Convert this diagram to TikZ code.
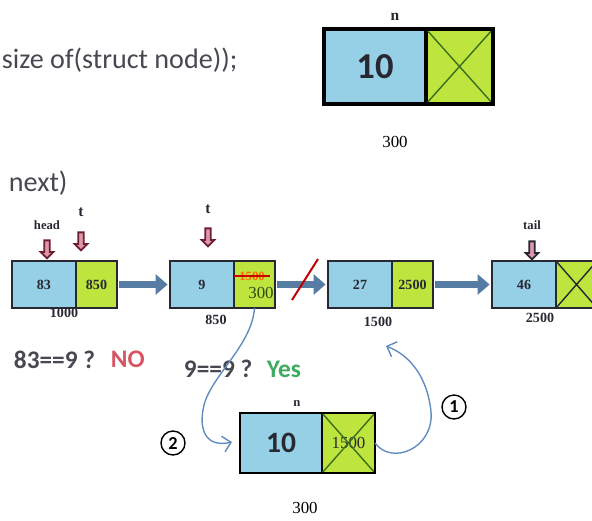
\documentclass[tikz,border=0pt]{standalone}
\usepackage{fontspec}
\setmainfont{Liberation Serif}
\setsansfont{Carlito}
\usetikzlibrary{arrows.meta,shapes.arrows}
\definecolor{cellblue}{RGB}{150,208,230}
\definecolor{cellgreen}{RGB}{190,228,62}
\definecolor{linkblue}{RGB}{86,124,164}
\definecolor{handblue}{RGB}{98,140,192}
\definecolor{noRed}{RGB}{214,86,100}
\definecolor{yesGreen}{RGB}{62,172,96}
\definecolor{ptrdraw}{RGB}{110,30,50}
\definecolor{ptrfill}{RGB}{222,150,170}
\definecolor{ink}{RGB}{40,40,50}
\definecolor{crossgreen}{RGB}{60,110,30}
\tikzset{
  >={Straight Barb[length=2mm]},
  datapart/.style={draw=ink,fill=cellblue,line width=0.5mm,inner sep=0pt,outer sep=0pt,
    minimum width=16mm,minimum height=11.75mm,font=\bfseries\fontsize{10}{11}\selectfont,text=ink},
  linkpart/.style={datapart,fill=cellgreen,minimum width=10.25mm,anchor=west},
  bigpart/.style={draw=black,fill=cellblue,inner sep=0pt,outer sep=0pt,
    font=\sffamily\bfseries\fontsize{#1}{#1}\selectfont,text=ink},
  bigpart/.default=22,
  addr/.style={font=\bfseries\fontsize{10}{11}\selectfont,text=ink},
  tag/.style={font=\bfseries\fontsize{9}{10}\selectfont,text=ink},
  ptr/.style={single arrow,shape border rotate=270,draw=#1,fill=ptrfill,line width=0.45mm,
    inner sep=0.45mm,minimum height=4.5mm,single arrow head extend=0.9mm},
  ptr/.default=ptrdraw,
  flow/.style={-{Triangle[length=3mm,width=5mm]},line width=1.7mm,draw=linkblue,
    shorten <=0.6mm,shorten >=0.6mm},
  hand/.style={->,line width=0.35mm,draw=handblue},
  say/.style={font=\sffamily\bfseries\fontsize{18}{20}\selectfont,text=ink!85,anchor=west},
  stepno/.style={circle,draw=black,line width=0.35mm,minimum size=6mm,inner sep=0pt,
    font=\sffamily\bfseries\fontsize{13}{13}\selectfont},
  xline/.style={draw=#1,line width=0.35mm},
  xline/.default=crossgreen,
}
\begin{document}
\begin{tikzpicture}[x=0.25mm,y=-0.25mm]
  \useasboundingbox (0,0) rectangle (592,520);
  % code fragments
  \node[say,font=\sffamily\fontsize{20}{22}\selectfont] (code1) at (-3,60) {size of(struct node));};
  \node[say,font=\sffamily\fontsize{20}{22}\selectfont] (code2) at (4,183) {next)};

  % freshly allocated node
  \node[bigpart=26,line width=0.9mm,minimum width=25.5mm,minimum height=18.75mm] (nd) at (375,66.5) {10};
  \node[bigpart,line width=0.9mm,fill=cellgreen,minimum width=16.75mm,minimum height=18.75mm,anchor=west] (nl) at (nd.east) {};
  \draw[xline] (nl.north west) -- (nl.south east) (nl.south west) -- (nl.north east);
  \draw[black,line width=0.9mm] (nd.north west) rectangle (nl.south east);
  \node[tag,font=\bfseries\fontsize{11}{12}\selectfont] (nname) at (395,17) {n};
  \node[font=\fontsize{12}{13}\selectfont] (naddr) at (395,142) {300};

  % the list
  \node[datapart] (d1) at (44,284.5) {83};
  \node[linkpart] (l1) at (d1.east) {850};
  \node[datapart] (d2) at (202,284.5) {9};
  \node[linkpart] (l2) at (d2.east) {};
  \node[datapart] (d3) at (360,284.5) {27};
  \node[linkpart] (l3) at (d3.east) {2500};
  \node[datapart] (d4) at (524,284.5) {46};
  \node[linkpart] (l4) at (d4.east) {};
  \draw[xline=ink] (l4.north west) -- (l4.south east) (l4.south west) -- (l4.north east);

  % overwritten link of node 850
  \node[font=\bfseries\fontsize{9}{10}\selectfont,text=orange!80!red] (old) at (252,276) {1500};
  \draw[red!80!black,line width=0.5mm] (old.west) -- (old.east);
  \node[font=\fontsize{12}{13}\selectfont,text=crossgreen!70!black] (new) at (261,293) {300};

  \node[addr] (a1) at (64,313) {1000};
  \node[addr] (a2) at (216,320) {850};
  \node[addr] (a3) at (378,322) {1500};
  \node[addr] (a4) at (540,318) {2500};

  % pointers
  \node[tag] (head) at (47,225) {head};
  \node[ptr] (phead) at (47,248) {};
  \node[tag,font=\bfseries\fontsize{11}{12}\selectfont] (t1) at (81,212) {t};
  \node[ptr] (pt1) at (81,240) {};
  \node[tag,font=\bfseries\fontsize{11}{12}\selectfont] (t2) at (208,209) {t};
  \node[ptr] (pt2) at (208,236) {};
  \node[tag] (tail) at (532,225) {tail};
  \node[ptr=ink] (ptail) at (532,249) {};

  \draw[flow] (l1.east) -- (d2.west);
  \draw[flow] (l2.east) -- (d3.west);
  \draw[flow] (l3.east) -- (d4.west);
  \draw[red!75!black,line width=0.5mm] (292,300) -- (318,259);

  % comparisons
  \node[say] (q1) at (9,360) {83==9 ?};
  \node[say,text=noRed] (no) at (106,359) {NO};
  \node[say] (q2) at (179,369) {9==9 ?};
  \node[say,text=yesGreen] (yes) at (262,369) {Yes};

  % node being inserted
  \node[bigpart=21,line width=0.6mm,minimum width=20.5mm,minimum height=15mm] (bd) at (281,443) {10};
  \node[bigpart,line width=0.6mm,fill=cellgreen,minimum width=13.25mm,minimum height=15mm,anchor=west] (bl) at (bd.east) {};
  \node[font=\fontsize{12}{13}\selectfont,text=ink] (blv) at (bl) {1500};
  \draw[xline] (bl.north west) -- (bl.south east) (bl.south west) -- (bl.north east);
  \draw[black,line width=0.6mm] (bd.north west) rectangle (bl.south east);
  \node[tag] (bname) at (297,404) {n};
  \node[font=\fontsize{12}{13}\selectfont] (baddr) at (305,508) {300};

  \coordinate (back) at (386,346);
  \draw[hand] (l2.south) .. controls (252,345) and (212,375) .. (204,405)
    .. controls (198,430) and (206,448) .. (232,442);
  \draw[hand] (bl.east) .. controls (392,466) and (434,448) .. (431,412)
    .. controls (428,380) and (412,356) .. (back);
  \node[stepno] (s1) at (454,407) {1};
  \node[stepno] (s2) at (173,443) {2};
\end{tikzpicture}
\end{document}
